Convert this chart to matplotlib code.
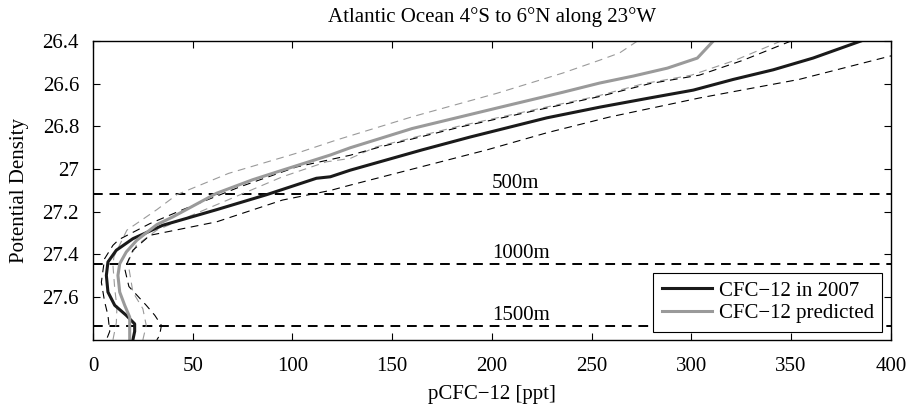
import numpy as np
import matplotlib
matplotlib.use("Agg")
from matplotlib import pyplot as plt
from matplotlib.ticker import FuncFormatter

# values: potential density vs pCFC-12 (ppt)

obs_dens = [26.40, 26.48, 26.535, 26.58, 26.63, 26.667, 26.71, 26.76, 26.85, 26.91,
            27.005, 27.036, 27.043, 27.12, 27.19, 27.263, 27.326, 27.38, 27.435,
            27.498, 27.576, 27.638, 27.685, 27.725, 27.76, 27.80]
obs_cfc = [385, 361, 341, 321, 301, 279, 254, 227.5, 189, 165,
           129, 119, 112, 87, 62, 35, 20, 11.7, 7.5,
           6.7, 7.5, 10.9, 16.7, 20.9, 20.9, 20]

obs_lo_dens = [26.40, 26.49, 26.56, 26.60, 26.66, 26.714, 26.80, 26.896, 26.935, 26.99,
               27.083, 27.19, 27.255, 27.33, 27.357, 27.42, 27.53, 27.62, 27.685, 27.76, 27.80]
obs_lo_cfc = [350, 326, 304, 279, 254, 227.5, 185.5, 144, 129, 102,
              73.7, 45, 28.6, 13, 10, 5.8, 4.2, 5.8, 7.5, 8.4, 6.7]

obs_hi_dens = [26.44, 26.47, 26.58, 26.667, 26.756, 26.83, 26.91, 27.075, 27.10, 27.145,
               27.247, 27.31, 27.38, 27.466, 27.55, 27.638, 27.685, 27.732, 27.779, 27.80]
obs_hi_cfc = [412, 400, 354, 304, 259, 227.5, 197.5, 129, 119, 95,
              62, 28.6, 20, 15.9, 18, 26.7, 31, 34.3, 33.4, 32]

pred_dens = [26.40, 26.48, 26.527, 26.564, 26.597, 26.64, 26.714, 26.81, 26.90, 26.934,
             27.005, 27.05, 27.113, 27.224, 27.26, 27.333, 27.388, 27.443, 27.498, 27.576,
             27.638, 27.693, 27.748, 27.80]
pred_cfc = [311, 303, 288, 271, 254, 235.6, 202.5, 160, 129, 119,
            95, 80, 62, 40, 32, 22, 16.7, 13.4, 12.5, 13.4,
            15.9, 18.4, 18.4, 18.4]

pred_lo_dens = [26.40, 26.456, 26.49, 26.55, 26.645, 26.755, 26.864, 26.92, 26.935, 27.02,
                27.12, 27.19, 27.286, 27.41, 27.45, 27.56, 27.647, 27.72, 27.80]
pred_lo_cfc = [273, 264, 254, 235.6, 202.5, 160, 122, 104, 98.7, 68,
               42, 32, 17, 10.5, 10, 10.9, 12, 11.7, 10]

pred_hi_dens = [26.40, 26.49, 26.56, 26.60, 26.66, 26.714, 26.80, 26.896, 26.95, 26.966,
                27.036, 27.2, 27.286, 27.357, 27.435, 27.576, 27.654, 27.732, 27.80]
pred_hi_cfc = [345, 322, 300, 276, 252, 225, 183, 142, 129, 117,
               95, 53.6, 32, 21.7, 17.5, 20, 25, 26.7, 25]

depth_dens = [27.117, 27.445, 27.736]
depth_labels = ["500m", "1000m", "1500m"]

plt.rcParams['font.family'] = ['Liberation Serif', 'DejaVu Serif']
fs = 15

fig = plt.figure(figsize=(9.09, 4.12), dpi=100)
ax = fig.add_axes([0.1023, 0.175, 0.8777, 0.7255])

gray = '#9a9a9a'
dash = (0, (7, 5))

for d, lab in zip(depth_dens, depth_labels):
    ax.axhline(d, color='black', lw=1.4, linestyle=(0, (5, 3.5)), zorder=1)
    ax.text(200, d - 0.004, lab, ha='left', va='bottom', fontsize=fs)

ax.plot(pred_lo_cfc, pred_lo_dens, color=gray, lw=0.8, linestyle=dash)
ax.plot(pred_hi_cfc, pred_hi_dens, color=gray, lw=0.8, linestyle=dash)
ax.plot(obs_lo_cfc, obs_lo_dens, color='black', lw=0.8, linestyle=dash)
ax.plot(obs_hi_cfc, obs_hi_dens, color='black', lw=0.8, linestyle=dash)

l1, = ax.plot(obs_cfc, obs_dens, color='#1a1a1a', lw=2.2, label='CFC\u221212 in 2007')
l2, = ax.plot(pred_cfc, pred_dens, color=gray, lw=2.2, label='CFC\u221212 predicted')

ax.set_xlim(0, 400)
ax.set_ylim(27.80, 26.40)
ax.set_xticks(np.arange(0, 401, 50))
ax.set_yticks([26.4, 26.6, 26.8, 27.0, 27.2, 27.4, 27.6])
ax.yaxis.set_major_formatter(FuncFormatter(lambda v, p: '%g' % round(v, 2)))
ax.tick_params(direction='in', top=True, right=True, length=5, width=0.8,
               labelsize=fs)
ax.tick_params(axis='x', pad=12)
ax.tick_params(axis='y', pad=10)
for s in ax.spines.values():
    s.set_linewidth(1.0)

ax.set_title('Atlantic Ocean 4\u00b0S to 6\u00b0N along 23\u00b0W', fontsize=fs, pad=14)
ax.set_xlabel('pCFC\u221212 [ppt]', fontsize=fs, labelpad=6.5)
ax.set_ylabel('Potential Density', fontsize=fs, labelpad=10)

leg = ax.legend(handles=[l1, l2], loc='lower right', fontsize=fs, fancybox=False,
                framealpha=1, edgecolor='black', handlelength=2.4, borderpad=0.4,
                labelspacing=0.15, handletextpad=0.35, borderaxespad=0.4)
leg.get_frame().set_linewidth(0.8)

fig.savefig('out.png', dpi=100)
